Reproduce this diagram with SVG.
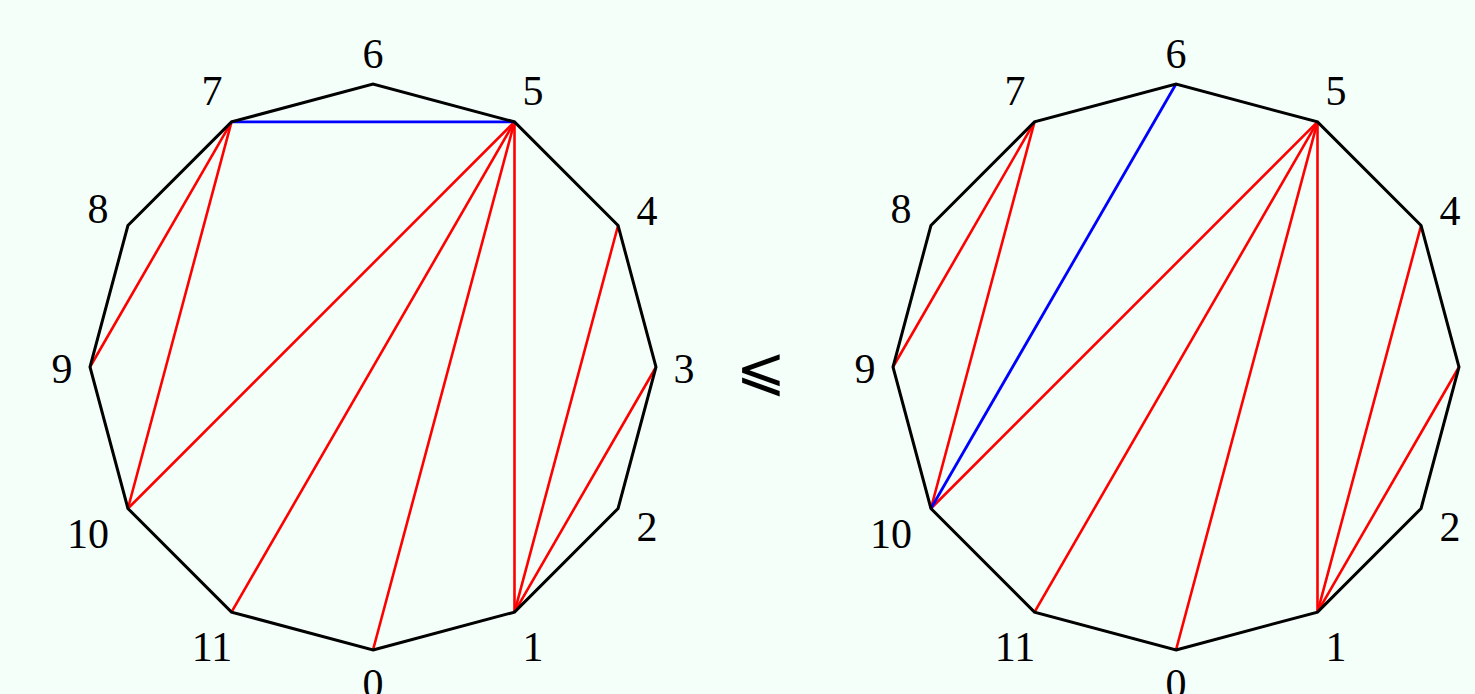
<svg xmlns="http://www.w3.org/2000/svg" width="1475" height="694" viewBox="0 0 1475 694">
<style>
.bg{fill:#f5fffa}
.poly{fill:none;stroke:#000;stroke-width:3;stroke-linejoin:miter}
.red{stroke:#ff0000;stroke-width:2.6;fill:none}
.blue{stroke:#0000ff;stroke-width:2.8;fill:none}
.lbl{font-family:"Liberation Serif","DejaVu Serif",serif;font-size:42px;fill:#000;text-anchor:middle}
.sym{font-family:"DejaVu Sans","DejaVu Serif",serif;font-size:60px;fill:#000;text-anchor:middle}
</style>
<rect class="bg" x="0" y="0" width="1475" height="694"/>
<g id="connectors">
  <g id="left-diagonals">
    <line class="red" x1="90" y1="367" x2="231.5" y2="121.91"/>
    <line class="red" x1="231.5" y1="121.91" x2="127.91" y2="508.5"/>
    <line class="red" x1="127.91" y1="508.5" x2="514.5" y2="121.91"/>
    <line class="red" x1="231.5" y1="612.09" x2="514.5" y2="121.91"/>
    <line class="red" x1="373" y1="650" x2="514.5" y2="121.91"/>
    <line class="red" x1="514.5" y1="612.09" x2="514.5" y2="121.91"/>
    <line class="red" x1="514.5" y1="612.09" x2="618.09" y2="225.5"/>
    <line class="red" x1="514.5" y1="612.09" x2="656" y2="367"/>
    <line class="blue" x1="231.5" y1="121.91" x2="514.5" y2="121.91"/>
  </g>
  <g id="right-diagonals">
    <line class="red" x1="893" y1="367" x2="1034.5" y2="121.91"/>
    <line class="red" x1="1034.5" y1="121.91" x2="930.91" y2="508.5"/>
    <line class="red" x1="930.91" y1="508.5" x2="1317.5" y2="121.91"/>
    <line class="red" x1="1034.5" y1="612.09" x2="1317.5" y2="121.91"/>
    <line class="red" x1="1176" y1="650" x2="1317.5" y2="121.91"/>
    <line class="red" x1="1317.5" y1="612.09" x2="1317.5" y2="121.91"/>
    <line class="red" x1="1317.5" y1="612.09" x2="1421.09" y2="225.5"/>
    <line class="red" x1="1317.5" y1="612.09" x2="1459" y2="367"/>
    <line class="blue" x1="1176" y1="84" x2="930.91" y2="508.5"/>
  </g>
</g>
<g id="left-polygon">
  <polygon class="poly" points="373,650 514.5,612.09 618.09,508.5 656,367 618.09,225.5 514.5,121.91 373,84 231.5,121.91 127.91,225.5 90,367 127.91,508.5 231.5,612.09"/>
  <text class="lbl" x="373" y="698">0</text>
  <text class="lbl" x="533" y="661">1</text>
  <text class="lbl" x="647" y="541">2</text>
  <text class="lbl" x="684" y="383">3</text>
  <text class="lbl" x="647" y="225">4</text>
  <text class="lbl" x="533" y="105">5</text>
  <text class="lbl" x="373" y="68">6</text>
  <text class="lbl" x="212" y="105">7</text>
  <text class="lbl" x="98" y="223">8</text>
  <text class="lbl" x="62" y="383">9</text>
  <text class="lbl" x="88" y="548">10</text>
  <text class="lbl" x="212" y="661">11</text>
</g>
<g id="relation">
  <text class="sym" x="761" y="389">⩽</text>
</g>
<g id="right-polygon">
  <polygon class="poly" points="1176,650 1317.5,612.09 1421.09,508.5 1459,367 1421.09,225.5 1317.5,121.91 1176,84 1034.5,121.91 930.91,225.5 893,367 930.91,508.5 1034.5,612.09"/>
  <text class="lbl" x="1176" y="698">0</text>
  <text class="lbl" x="1336" y="661">1</text>
  <text class="lbl" x="1450" y="541">2</text>
  <text class="lbl" x="1487" y="383">3</text>
  <text class="lbl" x="1450" y="225">4</text>
  <text class="lbl" x="1336" y="105">5</text>
  <text class="lbl" x="1176" y="68">6</text>
  <text class="lbl" x="1015" y="105">7</text>
  <text class="lbl" x="901" y="223">8</text>
  <text class="lbl" x="865" y="383">9</text>
  <text class="lbl" x="891" y="548">10</text>
  <text class="lbl" x="1015" y="661">11</text>
</g>
</svg>
